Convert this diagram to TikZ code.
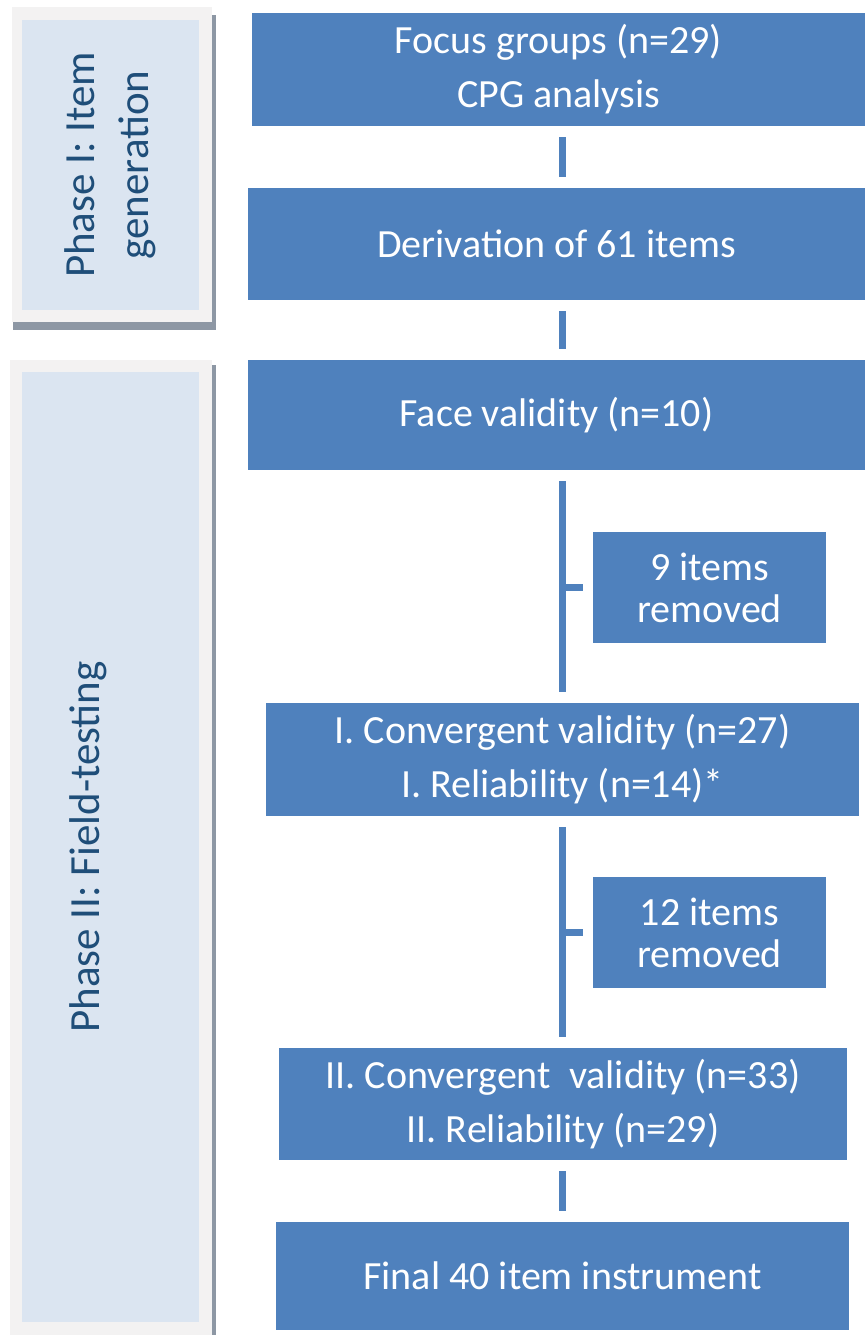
\documentclass[tikz,border=0pt]{standalone}
\usepackage{fontspec}
\setmainfont{Carlito}
\usepackage{tikz}

\definecolor{boxblue}{HTML}{4F81BD}
\definecolor{phasefill}{HTML}{DBE5F1}
\definecolor{phaseframe}{HTML}{F3F2F2}
\definecolor{phaseshadow}{HTML}{8D97A4}
\definecolor{phasetext}{HTML}{1F4E79}

\begin{document}
\begin{tikzpicture}[x=1pt,y=-1pt,
		stepbox/.style={shape=rectangle, fill=boxblue, text=white, inner sep=0pt, align=center, font=\fontsize{40}{54}\selectfont},
		cutbox/.style={stepbox, font=\fontsize{40}{42}\selectfont},
		link/.style={draw=boxblue, line width=7pt, shorten <=11pt, shorten >=11pt},
		phaselabel/.style={rotate=90, text=phasetext, align=center, inner sep=0pt, font=\fontsize{43}{54}\selectfont}]
			\useasboundingbox (0,0) rectangle (865,1335);
			
			% phase frames
			\fill[phaseshadow] (13,15) rectangle (216,330);
			\fill[phaseframe] (12,7) rectangle (212,322);
			\fill[phasefill] (22,20) rectangle (199,310);
			\node[phaselabel] (phaseone) at (110,165) {Phase I: Item\\generation};
			
			\fill[phaseshadow] (13,365) rectangle (216,1340);
			\fill[phaseframe] (10,360) rectangle (212,1340);
			\fill[phasefill] (22,372) rectangle (199,1322);
			\node[phaselabel] (phasetwo) at (88,847) {Phase II: Field-testing};
			
			% steps
			\node[stepbox, minimum width=613pt, minimum height=113pt] (focus) at (558.5,69.5) {Focus groups (n=29)\\CPG analysis};
			\node[stepbox, minimum width=617pt, minimum height=112pt] (deriv) at (556.5,244) {Derivation of 61 items};
			\node[stepbox, minimum width=617pt, minimum height=110pt] (face) at (556.5,415) {Face validity (n=10)};
			\node[cutbox, minimum width=233pt, minimum height=111pt] (cutnine) at (709.5,587.5) {9 items\\removed};
			\node[stepbox, minimum width=593pt, minimum height=113pt] (convone) at (562.5,759.5) {I. Convergent validity (n=27)\\I. Reliability (n=14)*};
			\node[cutbox, minimum width=233pt, minimum height=111pt] (cuttwelve) at (709.5,932.5) {12 items\\removed};
			\node[stepbox, minimum width=568pt, minimum height=112pt] (convtwo) at (563,1104) {II. Convergent~ validity (n=33)\\II. Reliability (n=29)};
			\node[stepbox, minimum width=573pt, minimum height=108pt] (final) at (562.5,1276) {Final 40 item instrument};
			
			\path[link] (focus.south -| convone) edge (deriv.north -| convone);
			\path[link] (deriv.south -| convone) edge (face.north -| convone);
			\path[link] (face.south -| convone) edge (convone.north);
			\path[link] (convone.south) edge (convtwo.north -| convone);
			\path[link] (convtwo.south -| convone) edge (final.north -| convone);
			\path[link, shorten <=0pt, shorten >=10pt] (cutnine.west -| convone) edge (cutnine.west);
			\path[link, shorten <=0pt, shorten >=10pt] (cuttwelve.west -| convone) edge (cuttwelve.west);
		\end{tikzpicture}
\end{document}
